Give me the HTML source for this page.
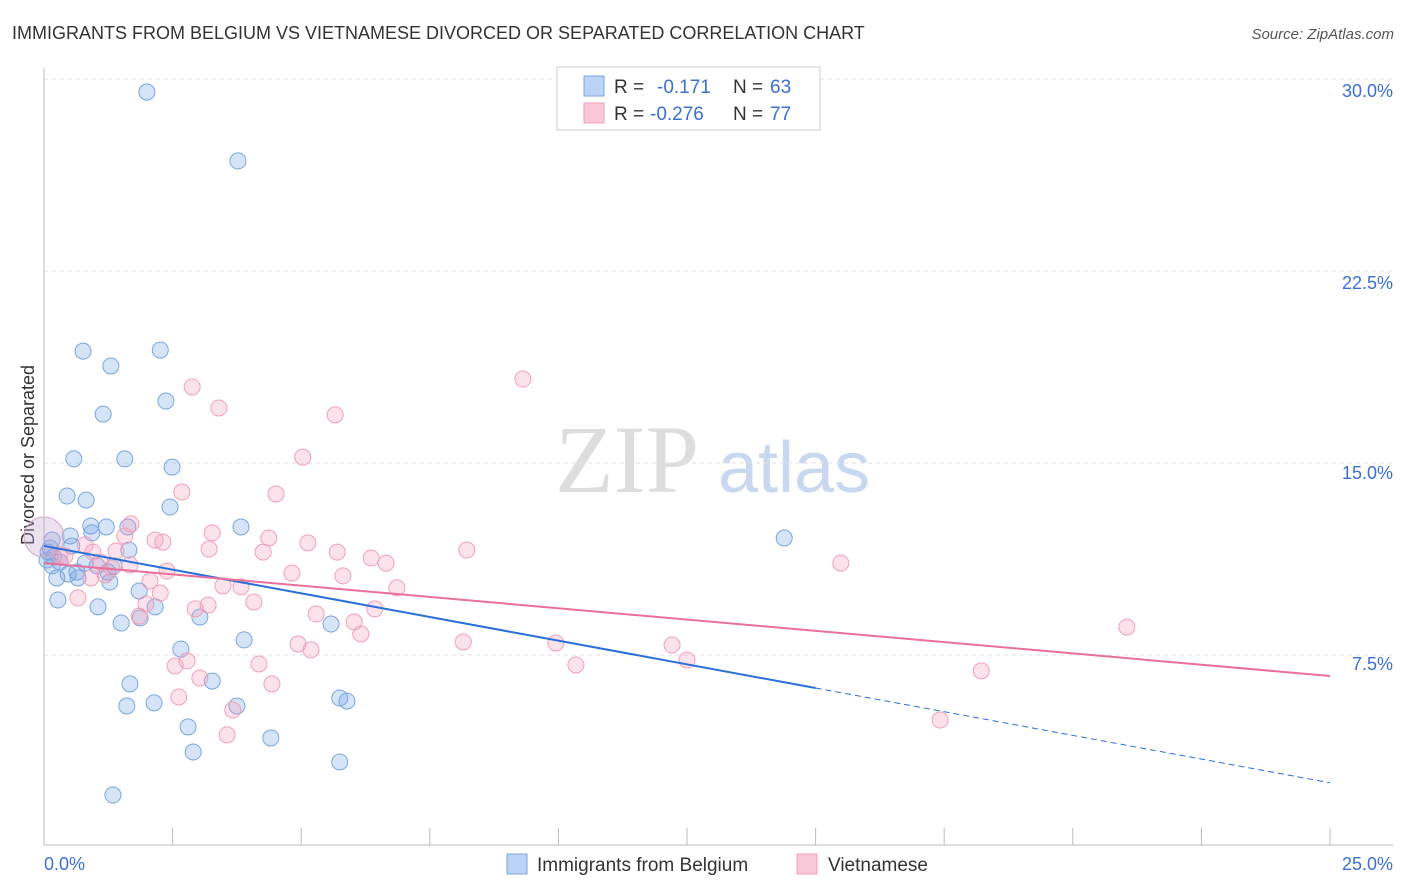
<!DOCTYPE html>
<html><head><meta charset="utf-8"><style>
body{margin:0;background:#fff;font-family:"Liberation Sans",sans-serif;}
#wrap{position:relative;width:1406px;height:892px;overflow:hidden;}
</style></head><body>
<div id="wrap">
<svg id="svg" width="1406" height="892" xmlns="http://www.w3.org/2000/svg">
<text x="12" y="39" font-size="18" fill="#333">IMMIGRANTS FROM BELGIUM VS VIETNAMESE DIVORCED OR SEPARATED CORRELATION CHART</text>
<text x="1394" y="39" font-size="15" fill="#555" font-style="italic" text-anchor="end">Source: ZipAtlas.com</text>
<text x="555" y="492" font-size="96" fill="#ddd" font-family="Liberation Serif,serif">ZIP</text>
<text x="718" y="492" font-size="72" fill="#c8d8ef">atlas</text>
<text x="34" y="455" font-size="18" fill="#333" text-anchor="middle" transform="rotate(-90 34 455)">Divorced or Separated</text>
<g id="grid"></g><g id="axes"></g><g id="pts"></g><g id="trend"></g>
<g>
<rect x="557" y="67" width="263" height="63" fill="#fff" stroke="#ccc"/>
<rect x="584" y="76" width="20" height="20" fill="#bcd3f5" stroke="#7aa5e0"/>
<rect x="584" y="103" width="20" height="20" fill="#f9c8d8" stroke="#f0a0b8"/>
<text x="614" y="93" font-size="19" fill="#333">R =</text>
<text x="657" y="93" font-size="19" fill="#3a70d0">-0.171</text>
<text x="733" y="93" font-size="19" fill="#333">N =</text>
<text x="770" y="93" font-size="19" fill="#3a70d0">63</text>
<text x="614" y="120" font-size="19" fill="#333">R =</text>
<text x="650" y="120" font-size="19" fill="#3a70d0">-0.276</text>
<text x="733" y="120" font-size="19" fill="#333">N =</text>
<text x="770" y="120" font-size="19" fill="#3a70d0">77</text>
</g>
<g>
<rect x="507" y="854" width="20" height="20" fill="#bcd3f5" stroke="#7aa5e0"/>
<text x="537" y="871" font-size="19" fill="#333">Immigrants from Belgium</text>
<rect x="797" y="854" width="20" height="20" fill="#f9c8d8" stroke="#f0a0b8"/>
<text x="828" y="871" font-size="19" fill="#333">Vietnamese</text>
</g>
</svg></div>
<script>
const yTicks=[7.5,15,22.5,30];
const yTickLabels=["7.5%","15.0%","22.5%","30.0%"];
const xTicks=[0,2.5,5,7.5,10,12.5,15,17.5,20,22.5,25];
const belgiumX=[2.00,3.77,0.76,2.26,1.30,2.37,1.15,0.58,1.57,2.49,0.45,0.82,2.45,3.83,0.91,1.21,1.63,0.93,0.51,0.16,0.54,1.65,0.19,0.31,0.80,1.03,1.36,0.16,0.64,0.47,1.24,0.25,0.66,1.28,0.27,1.05,2.16,1.85,1.87,3.03,1.50,3.89,5.58,2.66,1.67,3.27,1.61,2.14,3.75,5.75,5.89,2.80,2.90,4.41,5.75,1.34,14.39,0.12,0.08,0.06];
const belgiumY=[29.49,26.80,19.37,19.41,18.79,17.42,16.91,15.16,15.16,14.84,13.71,13.55,13.28,12.50,12.54,12.50,12.50,12.27,12.15,11.99,11.76,11.60,11.33,11.13,11.09,10.98,10.98,10.98,10.74,10.66,10.74,10.51,10.51,10.35,9.65,9.38,9.38,10.00,8.95,8.98,8.75,8.09,8.71,7.73,6.37,6.48,5.51,5.63,5.51,5.82,5.70,4.69,3.71,4.26,3.32,2.03,12.07,11.68,11.52,11.21];
const vietX=[9.31,2.88,3.40,5.66,5.03,2.68,4.51,1.69,3.27,1.57,2.16,2.31,4.37,5.13,3.21,4.26,5.70,6.36,6.65,8.22,15.49,1.40,0.95,0.41,1.09,1.67,1.32,0.91,2.06,4.82,5.81,3.48,3.83,6.86,2.26,0.66,1.98,3.19,4.08,2.94,6.43,1.85,5.29,6.03,6.16,8.15,9.95,12.21,4.94,5.19,2.78,2.55,4.18,10.34,12.50,21.05,18.22,3.03,4.43,2.62,3.67,3.56,17.42,0.31,1.19,2.39,0.80];
const vietY=[18.28,17.97,17.15,16.88,15.23,13.87,13.79,12.62,12.27,12.15,11.99,11.91,12.07,11.88,11.64,11.52,11.52,11.29,11.09,11.60,11.09,11.56,11.52,11.37,11.13,11.02,10.90,10.51,10.39,10.70,10.59,10.20,10.16,10.12,9.92,9.73,9.49,9.45,9.57,9.30,9.30,9.02,9.10,8.79,8.32,8.01,7.97,7.89,7.93,7.70,7.27,7.07,7.15,7.11,7.30,8.59,6.88,6.60,6.37,5.86,5.35,4.38,4.96,11.41,10.63,10.78,11.80];
const blueTrend=[11.76,2.51];
const pinkTrend=[11.09,6.68];
const NS="http://www.w3.org/2000/svg";
const sx=v=>44+v*51.44, sy=v=>847-v*25.6;
function mk(t,a,p){const e=document.createElementNS(NS,t);for(const k in a)e.setAttribute(k,a[k]);p.appendChild(e);return e;}
const grid=document.getElementById('grid'),axes=document.getElementById('axes'),pts=document.getElementById('pts'),tr=document.getElementById('trend');
yTicks.forEach((v,i)=>{
 const l=mk('line',{x1:44,x2:1393,y1:sy(v),y2:sy(v),stroke:'#e2e2e2','stroke-dasharray':'4,4'},grid);
 
 
 const t=mk('text',{x:1393,y:sy(v)+7+(v===30?11:v===22.5?11:v===15?9:8),'font-size':18,fill:'#3a70d0','text-anchor':'end'},axes);
 t.textContent=yTickLabels[i];
 
 
});
const topGrid=mk('line',{x1:44,x2:1393,y1:79,y2:79,stroke:'#e2e2e2','stroke-dasharray':'4,4'},grid);


const ax=mk('line',{x1:44,x2:1393,y1:845,y2:845,stroke:'#bbb'},axes);


const ay=mk('line',{x1:44,x2:44,y1:68,y2:845,stroke:'#bbb'},axes);


xTicks.forEach(v=>{const l=mk('line',{x1:sx(v),x2:sx(v),y1:828,y2:845,stroke:'#bbb'},axes);
 
 });
const xl0=mk('text',{x:44,y:870,'font-size':18,fill:'#3a70d0'},axes);xl0.textContent='0.0%';


const xl1=mk('text',{x:1393,y:870,'font-size':18,fill:'#3a70d0','text-anchor':'end'},axes);xl1.textContent='25.0%';


belgiumX.forEach((x,i)=>{const c=mk('circle',{cx:sx(x),cy:sy(belgiumY[i]),r:8,fill:'rgba(120,165,230,0.3)',stroke:'#7aa5e0','stroke-width':1},pts);
 
 });
vietX.forEach((x,i)=>{const c=mk('circle',{cx:sx(x),cy:sy(vietY[i]),r:8,fill:'rgba(245,160,190,0.3)',stroke:'#f0a0b8','stroke-width':1},pts);
 
 });
const big=mk('circle',{cx:sx(0),cy:sy(12.11),r:20,fill:'rgba(200,170,210,0.35)',stroke:'#d0a8c8'},pts);


const bAt=x=>blueTrend[0]+(blueTrend[1]-blueTrend[0])*x/25;
const b1=mk('line',{x1:sx(0),y1:sy(bAt(0)),x2:sx(15),y2:sy(bAt(15)),stroke:'#2a6fd8','stroke-width':2},tr);


const b2=mk('line',{x1:sx(15),y1:sy(bAt(15)),x2:sx(25),y2:sy(bAt(25)),stroke:'#2a6fd8','stroke-width':1,'stroke-dasharray':'6,4'},tr);


const p1=mk('line',{x1:sx(0),y1:sy(pinkTrend[0]),x2:sx(25),y2:sy(pinkTrend[1]),stroke:'#e8709a','stroke-width':2},tr);


</script>
</body></html>
